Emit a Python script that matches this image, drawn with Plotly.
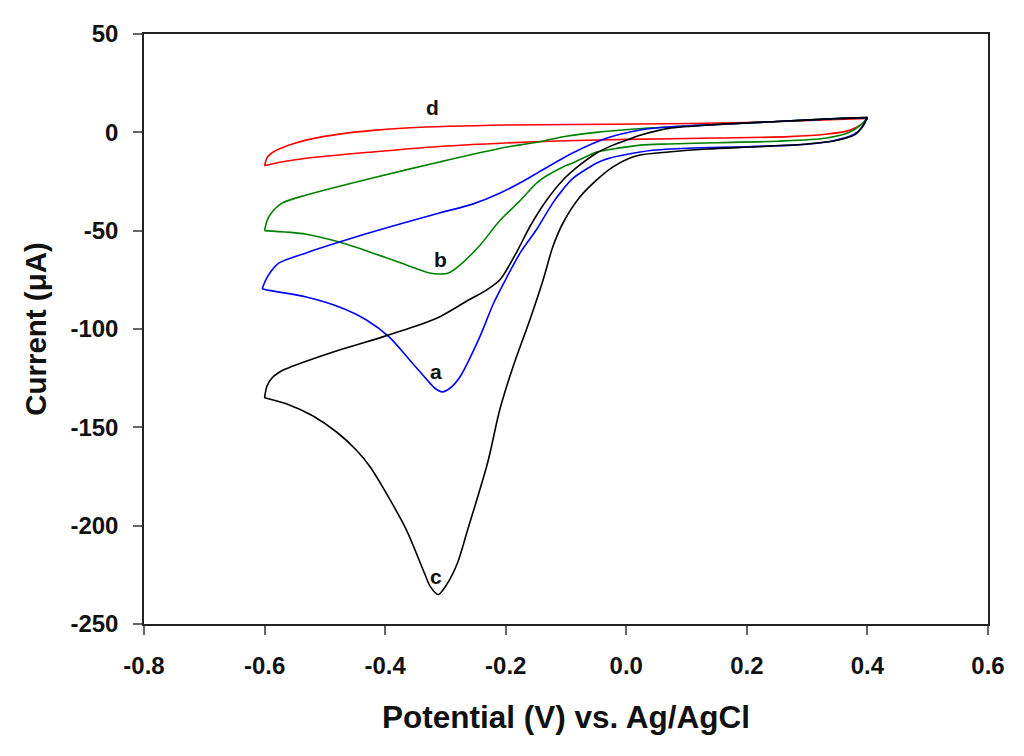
import plotly.graph_objects as go

# Curve c (black): forward (cathodic) scan 0.4 -> -0.6, reverse scan -0.6 -> 0.4
V_c_fwd = [0.400, 0.392, 0.380, 0.350, 0.300, 0.217, 0.134, 0.070, 0.023, 0.006, -0.022, -0.049,
           -0.077, -0.105, -0.122, -0.138, -0.160, -0.188, -0.210, -0.230, -0.263, -0.280, -0.298,
           -0.312, -0.325, -0.335, -0.365, -0.404, -0.425, -0.448, -0.480, -0.521, -0.560, -0.600]
I_c_fwd = [7.5, 3.0, -1.0, -4.0, -5.9, -7.3, -8.5, -10.0, -11.5, -13.1, -17.6, -24.2,
           -32.9, -46.1, -58.3, -75.1, -95.4, -119.3, -141.2, -168.0, -202.0, -219.0, -230.0,
           -235.0, -231.0, -224.0, -202.0, -180.4, -170.0, -161.5, -152.5, -144.0, -138.5, -135.0]
V_c_rev = [-0.600, -0.596, -0.588, -0.570, -0.554, -0.476, -0.404, -0.343, -0.310, -0.260, -0.232,
           -0.210, -0.182, -0.160, -0.132, -0.105, -0.077, -0.049, -0.022, 0.001, 0.023, 0.070,
           0.150, 0.250, 0.350, 0.400]
I_c_rev = [-135.0, -129.0, -125.0, -121.0, -119.0, -110.7, -104.0, -97.9, -93.9, -85.0, -80.2,
           -75.1, -61.0, -48.0, -34.4, -24.2, -16.6, -10.5, -6.5, -3.9, -1.5, 2.0,
           4.0, 5.5, 7.0, 7.5]

# Curve a (blue)
V_a_fwd = [0.400, 0.392, 0.378, 0.340, 0.277, 0.200, 0.110, 0.070, 0.023, -0.032, -0.049, -0.089,
           -0.105, -0.122, -0.148, -0.176, -0.198, -0.220, -0.243, -0.276, -0.292, -0.305, -0.318,
           -0.326, -0.355, -0.393, -0.431, -0.476, -0.531, -0.590, -0.604]
I_a_fwd = [7.5, 3.0, -1.0, -4.5, -6.5, -7.3, -8.0, -8.5, -10.0, -13.5, -15.6, -23.5,
           -29.0, -36.0, -49.0, -61.3, -73.6, -86.8, -104.0, -124.4, -130.0, -132.0, -130.0,
           -127.4, -117.3, -104.1, -95.4, -88.8, -83.7, -80.5, -79.5]
V_a_rev = [-0.604, -0.598, -0.590, -0.576, -0.531, -0.476, -0.393, -0.310, -0.255, -0.210, -0.172,
           -0.144, -0.089, -0.032, 0.023, 0.070, 0.150, 0.250, 0.350, 0.400]
I_a_rev = [-79.5, -75.0, -71.0, -66.4, -61.3, -55.8, -48.1, -41.0, -36.5, -31.0, -25.0,
           -20.0, -10.5, -2.9, 1.2, 2.7, 4.0, 5.5, 7.0, 7.5]

# Curve b (green)
V_b_fwd = [0.400, 0.390, 0.370, 0.330, 0.250, 0.150, 0.070, 0.023, -0.032, -0.049, -0.089, -0.105,
           -0.144, -0.177, -0.210, -0.243, -0.276, -0.295, -0.310, -0.326, -0.365, -0.421, -0.476,
           -0.531, -0.600]
I_b_fwd = [7.5, 4.0, 0.0, -3.0, -4.5, -5.3, -5.9, -6.5, -9.0, -10.0, -15.6, -17.6,
           -24.5, -35.0, -45.0, -57.5, -67.5, -71.5, -72.0, -71.5, -67.4, -61.3, -55.8,
           -51.8, -50.0]
V_b_rev = [-0.600, -0.596, -0.590, -0.571, -0.531, -0.421, -0.310, -0.198, -0.144, -0.100, -0.050,
           0.020, 0.070, 0.150, 0.250, 0.350, 0.400]
I_b_rev = [-50.0, -45.0, -41.5, -36.0, -31.9, -23.2, -15.1, -7.5, -4.8, -2.0, 0.0,
           1.8, 2.7, 4.0, 5.5, 7.0, 7.5]

# Curve d (red)
V_d_fwd = [0.400, 0.390, 0.370, 0.330, 0.270, 0.150, 0.000, -0.100, -0.200, -0.310, -0.421,
           -0.531, -0.570, -0.600]
I_d_fwd = [7.0, 4.0, 1.0, -1.0, -2.2, -2.9, -3.6, -4.3, -5.4, -7.2, -10.0,
           -13.2, -15.0, -17.0]
V_d_rev = [-0.600, -0.596, -0.588, -0.559, -0.520, -0.476, -0.420, -0.365, -0.198, 0.023,
           0.200, 0.350, 0.400]
I_d_rev = [-17.0, -13.0, -10.5, -6.5, -3.2, -0.9, 1.0, 2.2, 3.7, 4.2,
           5.0, 6.5, 7.0]

label_text = ["d", "b", "a", "c"]
label_V = [-0.322, -0.309, -0.315, -0.315]
label_I = [12.8, -64.5, -121.5, -226.0]

x_ticks = [-0.8, -0.6, -0.4, -0.2, 0.0, 0.2, 0.4, 0.6]
y_ticks = [50, 0, -50, -100, -150, -200, -250]

FONT = "Liberation Sans, Arial, sans-serif"

fig = go.Figure()
series = [
    (V_d_fwd, I_d_fwd, "#ff0000"), (V_d_rev, I_d_rev, "#ff0000"),
    (V_b_fwd, I_b_fwd, "#008000"), (V_b_rev, I_b_rev, "#008000"),
    (V_a_fwd, I_a_fwd, "#0000ff"), (V_a_rev, I_a_rev, "#0000ff"),
    (V_c_fwd, I_c_fwd, "#000000"), (V_c_rev, I_c_rev, "#000000"),
]
for vx, iy, col in series:
    fig.add_trace(go.Scatter(x=vx, y=iy, mode="lines",
                             line=dict(color=col, width=1.6, shape="spline", smoothing=0.8),
                             showlegend=False, hoverinfo="skip"))

for t, vx, iy in zip(label_text, label_V, label_I):
    fig.add_annotation(x=vx, y=iy, text=t, showarrow=False,
                       font=dict(family=FONT, size=21, color="#111", weight="bold"))

axis_common = dict(showline=True, linecolor="#222", linewidth=1.5, mirror=True,
                   ticks="outside", ticklen=9, tickcolor="#666", tickwidth=1.5,
                   showgrid=False, zeroline=False,
                   tickfont=dict(family=FONT, size=24, color="#111", weight="bold"))

fig.update_xaxes(range=[-0.8, 0.6], tickvals=x_ticks,
                 ticktext=[f"{v:.1f}" for v in x_ticks], ticklabelstandoff=10,
                 title=dict(text="Potential (V) vs. Ag/AgCl", standoff=28,
                            font=dict(family=FONT, size=31.5, color="#111", weight="bold")),
                 **axis_common)
fig.update_yaxes(range=[-250, 50], tickvals=y_ticks,
                 ticktext=[str(v) for v in y_ticks], ticklabelstandoff=10,
                 title=dict(text="Current (\u03bcA)", standoff=15,
                            font=dict(family=FONT, size=29.5, color="#111", weight="bold")),
                 **axis_common)

fig.update_layout(width=1008, height=740, plot_bgcolor="white", paper_bgcolor="white",
                  margin=dict(l=136, r=28, t=26, b=124))

fig.write_html("out.html")
